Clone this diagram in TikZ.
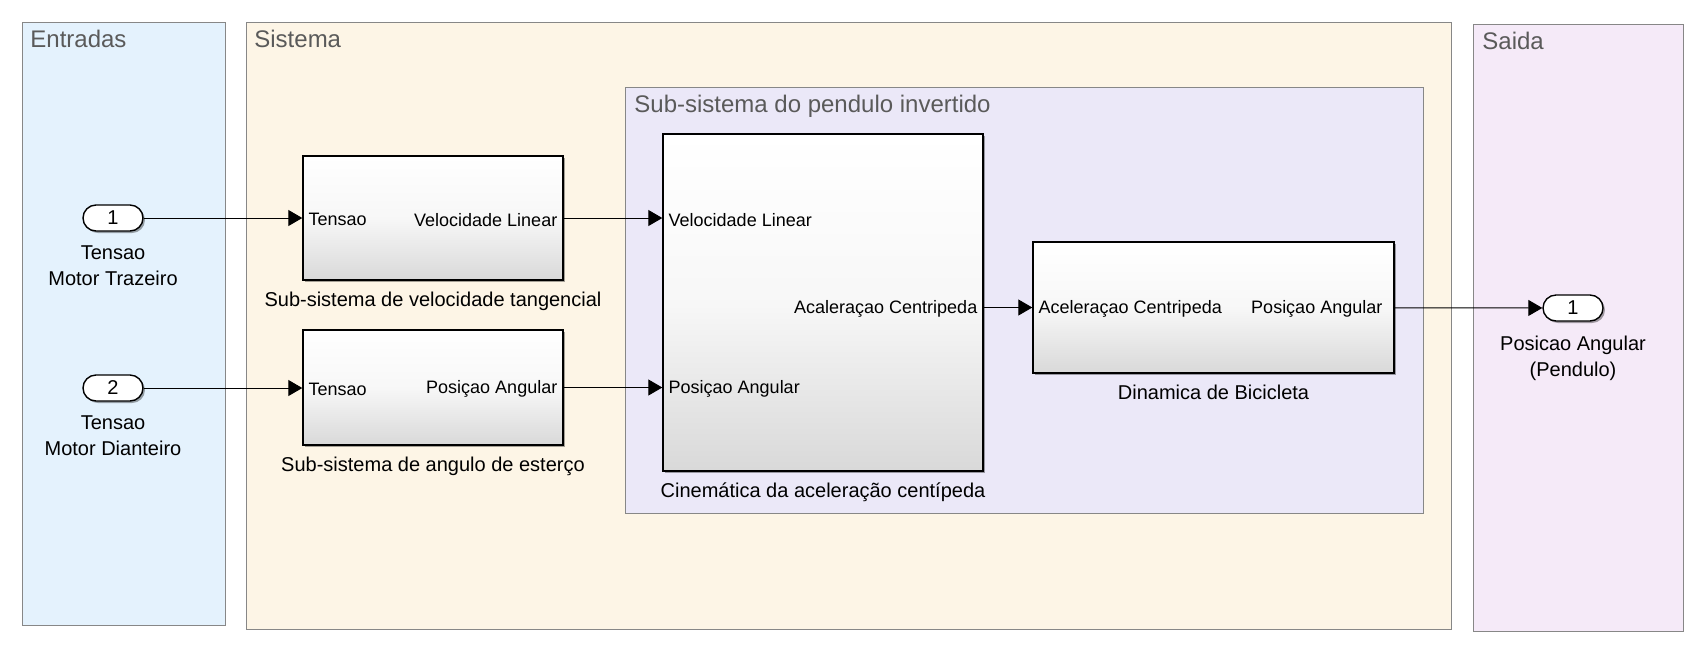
\documentclass[tikz,border=0pt]{standalone}
\usepackage{fontspec}
\setmainfont{Liberation Sans}
\usetikzlibrary{arrows.meta,positioning,shadows}

\definecolor{inblue}{RGB}{228,242,253}
\definecolor{sysbeige}{RGB}{253,245,230}
\definecolor{subviolet}{RGB}{235,232,248}
\definecolor{outpink}{RGB}{245,234,248}
\definecolor{framegray}{RGB}{135,135,135}
\definecolor{titlegray}{RGB}{90,90,90}

\begin{document}
\begin{tikzpicture}[
  x=0.5pt,y=-0.5pt,
  node distance=2.5pt,
  area/.style={draw=framegray,line width=0.6pt,anchor=north west,inner sep=0pt},
  areatitle/.style={anchor=north west,text=titlegray,font=\fontsize{12}{14}\selectfont,inner sep=3pt},
  block/.style={draw,line width=0.7pt,top color=white,bottom color=black!15,middle color=black!3,inner sep=0pt,
    drop shadow={shadow xshift=1.2pt,shadow yshift=-1.2pt,fill=black,opacity=0.35}},
  port/.style={draw,line width=0.7pt,rounded corners=6.5pt,fill=white,minimum width=30pt,minimum height=13pt,inner sep=0pt,
    font=\fontsize{10}{12}\selectfont,drop shadow={shadow xshift=1pt,shadow yshift=-1pt,fill=black,opacity=0.35}},
  portname/.style={font=\fontsize{9}{11}\selectfont,inner sep=3pt,yshift=-0.8pt},
  caption/.style={font=\fontsize{10}{13}\selectfont,align=center,inner sep=3pt},
  signal/.style={line width=0.5pt,-{Triangle[length=7pt,width=8pt]}}
]
  \useasboundingbox (0,0) rectangle (1707,649);

  \node[area,fill=inblue,minimum width=101.5pt,minimum height=301.5pt] (entradas) at (22,22) {};
  \node[area,fill=sysbeige,minimum width=602.5pt,minimum height=303.5pt] (sistema) at (246,22) {};
  \node[area,fill=outpink,minimum width=105pt,minimum height=303.5pt] (saida) at (1473,24) {};
  \node[area,fill=subviolet,minimum width=399pt,minimum height=213pt] (pendulo) at (625,87) {};

  \node[areatitle] (entradas-title) at ([shift={(1pt,-1pt)}]entradas.north west) {Entradas};
  \node[areatitle] (sistema-title) at ([shift={(1pt,-1pt)}]sistema.north west) {Sistema};
  \node[areatitle] (saida-title) at ([shift={(1.5pt,-1pt)}]saida.north west) {Saida};
  \node[areatitle] (pendulo-title) at ([shift={(1.5pt,-1pt)}]pendulo.north west) {Sub-sistema do pendulo invertido};

  \node[block,minimum width=130pt,minimum height=62pt] (vel) at (433,218) {};
  \node[block,minimum width=130pt,minimum height=57.5pt] (ang) at (433,387.5) {};
  \node[block,minimum width=160pt,minimum height=168.5pt] (cin) at (823,302.5) {};
  \node[block,minimum width=180.5pt,minimum height=65.5pt] (din) at (1213.5,307.5) {};

  \node[port] (in1) at (113,218) {1};
  \node[port] (in2) at (113,388) {2};
  \node[port] (out1) at (1573,308) {1};

  \node[caption,below=3.8pt of in1] (in1-label) {Tensao\\Motor Trazeiro};
  \node[caption,below=3.8pt of in2] (in2-label) {Tensao\\Motor Dianteiro};
  \node[caption,below=3.8pt of out1] (out1-label) {Posicao Angular\\(Pendulo)};

  \node[caption,below=of vel] (vel-caption) {Sub-sistema de velocidade tangencial};
  \node[caption,below=of ang] (ang-caption) {Sub-sistema de angulo de esterço};
  \node[caption,below=of cin] (cin-caption) {Cinemática da aceleração centípeda};
  \node[caption,below=of din] (din-caption) {Dinamica de Bicicleta};

  \node[portname,anchor=west] (vel-in) at (vel.west) {Tensao};
  \node[portname,anchor=east] (vel-out) at (vel.east) {Velocidade Linear};
  \node[portname,anchor=west] (ang-in) at (ang.west) {Tensao};
  \node[portname,anchor=east] (ang-out) at (ang.east) {Posiçao Angular};
  \node[portname,anchor=west] (cin-in1) at (vel.east -| cin.west) {Velocidade Linear};
  \node[portname,anchor=west] (cin-in2) at (ang.east -| cin.west) {Posiçao Angular};
  \node[portname,anchor=east] (cin-out) at (din.west -| cin.east) {Acaleraçao Centripeda};
  \node[portname,anchor=west] (din-in) at (din.west) {Aceleraçao Centripeda};
  \node[portname,anchor=east,xshift=-3pt] (din-out) at (din.east) {Posiçao Angular};

  \draw[signal] (in1) -- (vel);
  \draw[signal] (in2) -- (ang.west |- in2);
  \draw[signal] (vel) -- (vel.east -| cin.west);
  \draw[signal] (ang) -- (ang.east -| cin.west);
  \draw[signal] (din.west -| cin.east) -- (din);
  \draw[signal] (din) -- (out1);
\end{tikzpicture}
\end{document}
